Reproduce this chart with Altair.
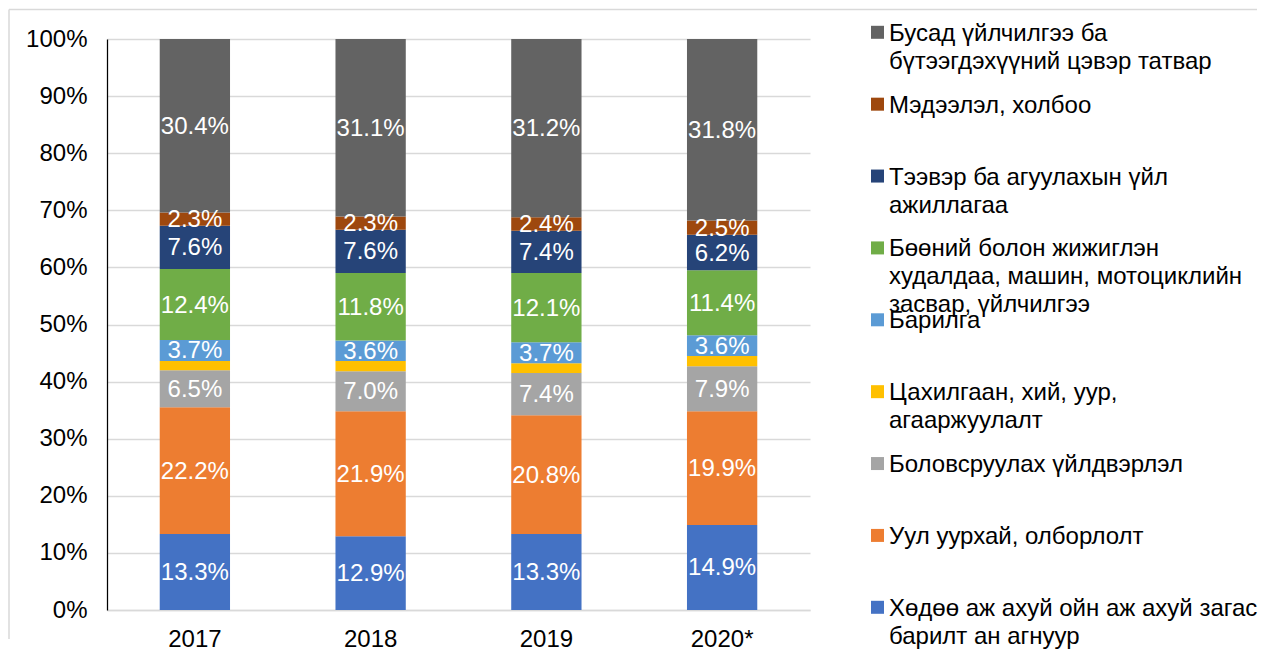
import altair as alt
import pandas as pd

years = ["2017", "2018", "2019", "2020*"]

categories = [
    "Хөдөө аж ахуй ойн аж ахуй загас барилт ан агнуур",
    "Уул уурхай, олборлолт",
    "Боловсруулах үйлдвэрлэл",
    "Цахилгаан, хий, уур, агааржуулалт",
    "Барилга",
    "Бөөний болон жижиглэн худалдаа, машин, мотоциклийн засвар, үйлчилгээ",
    "Тээвэр ба агуулахын үйл ажиллагаа",
    "Мэдээлэл, холбоо",
    "Бусад үйлчилгээ ба бүтээгдэхүүний цэвэр татвар",
]

legend_labels = [
    "Хөдөө аж ахуй ойн аж ахуй загас\nбарилт ан агнуур",
    "Уул уурхай, олборлолт",
    "Боловсруулах үйлдвэрлэл",
    "Цахилгаан, хий, уур,\nагааржуулалт",
    "Барилга",
    "Бөөний болон жижиглэн\nхудалдаа, машин, мотоциклийн\nзасвар, үйлчилгээ",
    "Тээвэр ба агуулахын үйл\nажиллагаа",
    "Мэдээлэл, холбоо",
    "Бусад үйлчилгээ ба\nбүтээгдэхүүний цэвэр татвар",
]

colors = ["#4472C4", "#ED7D31", "#A5A5A5", "#FFC000", "#5B9BD5",
          "#70AD47", "#264478", "#9E480E", "#636363"]

# values per category, one per year
agri = [13.3, 12.9, 13.3, 14.9]
mining = [22.2, 21.9, 20.8, 19.9]
manuf = [6.5, 7.0, 7.4, 7.9]
elec = [1.6, 1.8, 1.7, 1.8]
constr = [3.7, 3.6, 3.7, 3.6]
trade = [12.4, 11.8, 12.1, 11.4]
transport = [7.6, 7.6, 7.4, 6.2]
info = [2.3, 2.3, 2.4, 2.5]
other = [30.4, 31.1, 31.2, 31.8]

series = [agri, mining, manuf, elec, constr, trade, transport, info, other]
show_label = [True, True, True, False, True, True, True, True, True]

rows = []
for ci, (cat, vals) in enumerate(zip(categories, series)):
    for yi, yr in enumerate(years):
        rows.append({"year": yr, "cat": cat, "order": ci, "value": vals[yi],
                     "show": show_label[ci]})
df = pd.DataFrame(rows)

leg_df = pd.DataFrame({"cat": categories, "label": legend_labels,
                       "order": list(range(len(categories)))})

FONT = "Liberation Sans"
FS = 24
color_scale = alt.Scale(domain=categories, range=colors)
y_scale = alt.Scale(domain=[0, 100], nice=False)

base = alt.Chart(df).transform_stack(
    stack="value", groupby=["year"], sort=[alt.SortField("order", "ascending")],
    as_=["y0", "y1"]
).transform_calculate(mid="(datum.y0 + datum.y1) / 2")

bars = base.mark_bar().encode(
    x=alt.X("year:N", sort=years,
            scale=alt.Scale(paddingInner=0.6, paddingOuter=0.3),
            axis=alt.Axis(title=None, labelAngle=0, labelFontSize=FS, labelFont=FONT,
                          labelColor="#000000", ticks=False, labelPadding=17,
                          domainColor="#D9D9D9", domainWidth=1.5)),
    y=alt.Y("y0:Q", scale=y_scale,
            axis=alt.Axis(title=None, values=list(range(0, 101, 10)),
                          labelExpr="datum.value + '%'", labelFontSize=FS,
                          labelFont=FONT, labelColor="#000000", ticks=False,
                          labelPadding=20, domainColor="#000000", domainWidth=1.25,
                          gridColor="#D9D9D9", gridWidth=1.5)),
    y2="y1:Q",
    color=alt.Color("cat:N", scale=color_scale, legend=None),
)

labels = base.transform_filter("datum.show").transform_calculate(
    txt="format(datum.value, '.1f') + '%'"
).mark_text(color="white", fontSize=FS, font=FONT, baseline="middle", dy=1).encode(
    x=alt.X("year:N", sort=years),
    y=alt.Y("mid:Q", scale=y_scale, axis=None),
    text="txt:N",
)

leg_y = alt.Y("cat:N", scale=alt.Scale(type="point", domain=categories,
                                         range=[568.3, -6.7], padding=0), axis=None)

leg_sym = alt.Chart(leg_df).mark_square(size=169, opacity=1, filled=True).encode(
    x=alt.value(770.5),
    y=leg_y,
    color=alt.Color("cat:N", scale=color_scale, legend=None),
)

leg_txt = alt.Chart(leg_df).mark_text(
    align="left", baseline="alphabetic", dy=8.5, fontSize=FS, font=FONT,
    color="#000000", lineBreak="\n", lineHeight=28
).encode(
    x=alt.value(782),
    y=leg_y,
    text="label:N",
)

frame_df = pd.DataFrame({"k": [0]})
frame_top = alt.Chart(frame_df).mark_rule(color="#D9D9D9", strokeWidth=1.5).encode(
    x=alt.value(-98), x2=alt.value(1150), y=alt.value(-29.5)
)
frame_left = alt.Chart(frame_df).mark_rule(color="#D9D9D9", strokeWidth=1.5).encode(
    x=alt.value(-98), y=alt.value(-29.5), y2=alt.value(600)
)

chart = alt.layer(frame_top, frame_left, bars, labels, leg_sym, leg_txt).resolve_scale(
    y="independent"
).properties(
    width=703, height=571, padding=0
).configure_view(stroke=None)

chart.save("out.html", embed_options={"renderer": "svg", "actions": False})
